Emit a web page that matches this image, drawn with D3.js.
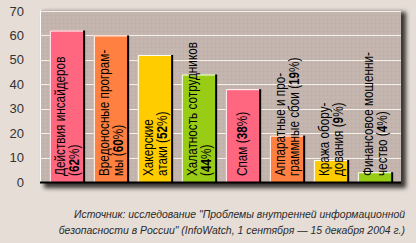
<!DOCTYPE html>
<html>
<head>
<meta charset="utf-8">
<script src="https://cdn.jsdelivr.net/npm/d3@7"></script>
<style>
  body { margin: 0; background: #e5ddd6; }
  svg { display: block; }
</style>
</head>
<body>
<script>
// data
var categories = ["insiders", "malware", "hackers", "negligence", "spam", "failures", "theft", "fraud"];
var values = [62, 60, 52, 44, 38, 19, 9, 4];
// label lines; the value "(NN%)" is appended to the last line
var labelLines = [
  ["Действия инсайдеров", ""],
  ["Вредоносные програм-", "мы "],
  ["Хакерские", "атаки "],
  ["Халатность сотрудников", ""],
  ["Спам "],
  ["Аппаратные и про-", "граммные сбои "],
  ["Кража обору-", "дования "],
  ["Финансовое мошенни-", "чество "]
];
var yTicks = [0, 10, 20, 30, 40, 50, 60, 70];
var sourceLines = [
  "Источник: исследование \"Проблемы внутренней информационной",
  "безопасности в России\" (InfoWatch, 1 сентября — 15 декабря 2004 г.)"
];

var barColors = ["#ff6680", "#ff8040", "#ffcc00", "#99cc14", "#ff6680", "#ff8040", "#ffcc00", "#99cc14"];

var width = 416, height = 243;
var plotLeft = 41, plotRight = 401, plotTop = 11, plotBottom = 182;

var svg = d3.select("body").append("svg")
    .attr("width", width)
    .attr("height", height);

var defs = svg.append("defs");
defs.append("filter").attr("id", "shadow")
    .attr("x", "-5%").attr("y", "-5%").attr("width", "115%").attr("height", "115%")
  .append("feGaussianBlur").attr("stdDeviation", 2);

// speckled plot background
var pat = defs.append("pattern").attr("id", "speck")
    .attr("patternUnits", "userSpaceOnUse")
    .attr("width", 4).attr("height", 4);
pat.append("rect").attr("width", 4).attr("height", 4).attr("fill", "#c3b5ad");
pat.append("rect").attr("x", 1).attr("y", 1).attr("width", 1).attr("height", 1).attr("fill", "#ccbfb7");
pat.append("rect").attr("x", 3).attr("y", 3).attr("width", 1).attr("height", 1).attr("fill", "#bbada5");

var x = d3.scaleBand()
    .domain(categories)
    .range([plotLeft, plotRight])
    .paddingInner(0.22)
    .paddingOuter(0.2);

var y = d3.scaleLinear()
    .domain([0, 70])
    .range([plotBottom, plotTop]);

// shadow + plot area
svg.append("rect")
    .attr("x", plotLeft + 3).attr("y", plotTop + 1)
    .attr("width", plotRight - plotLeft + 2).attr("height", plotBottom - plotTop + 5)
    .attr("fill", "#3a3430")
    .attr("filter", "url(#shadow)");

svg.append("rect")
    .attr("x", plotLeft).attr("y", plotTop - 1)
    .attr("width", plotRight - plotLeft).attr("height", plotBottom - plotTop + 1)
    .attr("fill", "url(#speck)");

// grid
svg.append("g")
  .selectAll("line")
  .data(yTicks.filter(function(d) { return d > 0; }))
  .enter().append("line")
    .attr("x1", plotLeft).attr("x2", plotRight)
    .attr("y1", function(d) { return Math.round(y(d)) + 0.5; })
    .attr("y2", function(d) { return Math.round(y(d)) + 0.5; })
    .attr("stroke", "#f4f0ec")
    .attr("stroke-width", 1);

// white left border
svg.append("line")
    .attr("x1", plotLeft - 0.5).attr("x2", plotLeft - 0.5)
    .attr("y1", plotTop - 1).attr("y2", plotBottom)
    .attr("stroke", "#ffffff");

// y labels
svg.append("g")
  .selectAll("text")
  .data(yTicks)
  .enter().append("text")
    .attr("x", 24)
    .attr("y", function(d) { return y(d); })
    .attr("dy", "0.35em")
    .attr("text-anchor", "end")
    .attr("font-family", "Liberation Sans, Arial, sans-serif")
    .attr("font-size", 13)
    .attr("fill", "#333")
    .text(function(d) { return d; });

// bars
var bars = svg.append("g")
  .selectAll("g")
  .data(categories)
  .enter().append("g");

bars.append("rect")
    .attr("x", function(d) { return x(d); })
    .attr("y", function(d, i) { return y(values[i]); })
    .attr("width", x.bandwidth())
    .attr("height", function(d, i) { return plotBottom - y(values[i]); })
    .attr("fill", function(d, i) { return barColors[i]; });

bars.append("path")
    .attr("d", function(d, i) {
      var x0 = x(d) + 0.5, y0 = y(values[i]) + 0.5;
      return "M" + x0 + "," + plotBottom + "V" + y0 + "H" + (x(d) + x.bandwidth() - 1);
    })
    .attr("fill", "none")
    .attr("stroke", "#ffffff");

bars.append("line")
    .attr("x1", function(d) { return x(d) + x.bandwidth(); })
    .attr("x2", function(d) { return x(d) + x.bandwidth(); })
    .attr("y1", function(d, i) { return y(values[i]); })
    .attr("y2", plotBottom)
    .attr("stroke", "#000")
    .attr("stroke-width", 2);

// zero axis
svg.append("line")
    .attr("x1", plotLeft - 1).attr("x2", plotRight)
    .attr("y1", plotBottom + 0.5).attr("y2", plotBottom + 0.5)
    .attr("stroke", "#000")
    .attr("stroke-width", 2);

// rotated labels inside bars (narrowed along the text like the original pixel font)
bars.each(function(d, i) {
  var lines = labelLines[i];
  var cx = x(d) + x.bandwidth() / 2;
  var g = d3.select(this).append("g")
      .attr("transform", "translate(" + cx + "," + (plotBottom - 6) + ") rotate(-90) scale(0.84,1)");
  var n = lines.length;
  lines.forEach(function(line, j) {
    var off = n === 1 ? -1 : (j === 0 ? -7 : 7);
    var t = g.append("text")
        .attr("x", 0)
        .attr("y", off)
        .attr("dy", "0.35em")
        .attr("font-family", "Liberation Sans, Arial, sans-serif")
        .attr("font-size", 14)
        .attr("fill", "#000");
    t.append("tspan").text(line);
    if (j === n - 1) {
      t.append("tspan").text("(");
      t.append("tspan").attr("font-weight", "bold").text(values[i]);
      t.append("tspan").text("%)");
    }
  });
});

// source note
svg.append("g")
  .selectAll("text")
  .data(sourceLines)
  .enter().append("text")
    .attr("transform", function(d, i) { return "translate(405," + (214 + i * 16) + ") scale(0.95,1)"; })
    .attr("dy", "0.35em")
    .attr("text-anchor", "end")
    .attr("font-family", "Liberation Sans, Arial, sans-serif")
    .attr("font-style", "italic")
    .attr("font-size", 11)
    .attr("fill", "#2a2a2a")
    .text(function(d) { return d; });
</script>
</body>
</html>
